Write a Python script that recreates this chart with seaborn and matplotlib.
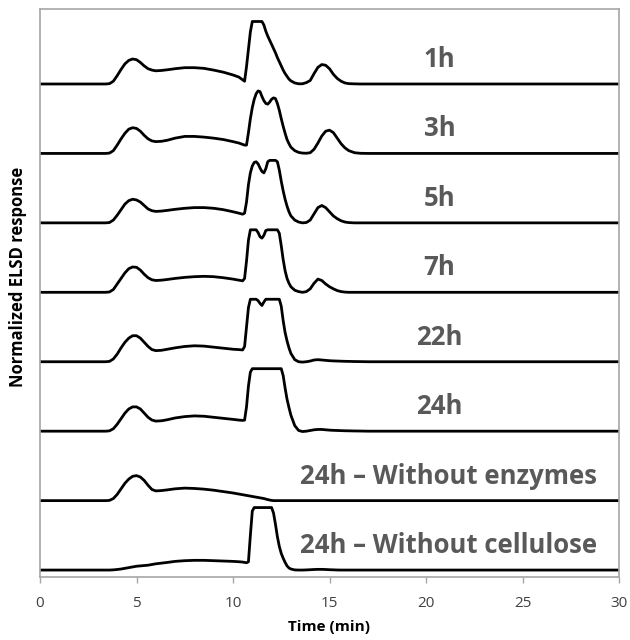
import numpy as np
import pandas as pd
import matplotlib
matplotlib.use("Agg")
import matplotlib.pyplot as plt
import seaborn as sns

# Retention time grid (min) shared by all chromatograms
time_min = [
    0, 3.4, 3.6, 3.8, 4.0, 4.2, 4.4, 4.6, 4.8, 5.0,
    5.2, 5.4, 5.6, 5.8, 6.0, 6.3, 6.6, 7.0, 7.5, 8.0,
    8.5, 9.0, 9.5, 10.0, 10.3, 10.5, 10.6, 10.7, 10.8, 10.9,
    11.0, 11.1, 11.2, 11.3, 11.4, 11.5, 11.6, 11.7, 11.8, 11.9,
    12.0, 12.1, 12.2, 12.3, 12.4, 12.5, 12.6, 12.7, 12.8, 12.9,
    13.0, 13.2, 13.4, 13.6, 13.8, 14.0, 14.2, 14.4, 14.6, 14.8,
    15.0, 15.2, 15.4, 15.6, 15.8, 16.0, 16.3, 16.6, 17.0, 30.0,
]

# Normalized ELSD response of each sample (detector saturates at the flat tops)
elsd_1h = [
    0, 0, 0.005, 0.04, 0.12, 0.21, 0.29, 0.34, 0.36, 0.35,
    0.31, 0.26, 0.22, 0.20, 0.19, 0.195, 0.205, 0.22, 0.235, 0.235,
    0.225, 0.2, 0.17, 0.13, 0.1, 0.06, 0.04, 0.25, 0.5, 0.75,
    0.9, 0.9, 0.9, 0.9, 0.9, 0.9, 0.85, 0.76, 0.69, 0.63,
    0.57, 0.51, 0.45, 0.38, 0.32, 0.26, 0.2, 0.15, 0.11, 0.07,
    0.045, 0.015, 0.003, 0.003, 0.02, 0.05, 0.15, 0.24, 0.28, 0.27,
    0.22, 0.14, 0.08, 0.04, 0.015, 0.005, 0.002, 0, 0, 0,
]
elsd_3h = [
    0, 0, 0.005, 0.04, 0.12, 0.21, 0.29, 0.35, 0.37, 0.36,
    0.32, 0.26, 0.21, 0.18, 0.17, 0.175, 0.19, 0.22, 0.245, 0.245,
    0.235, 0.22, 0.2, 0.17, 0.15, 0.13, 0.12, 0.12, 0.3, 0.5,
    0.66, 0.78, 0.86, 0.9, 0.89, 0.82, 0.76, 0.72, 0.71, 0.74,
    0.78, 0.8, 0.79, 0.72, 0.62, 0.5, 0.39, 0.29, 0.2, 0.14,
    0.09, 0.04, 0.015, 0.005, 0.003, 0.01, 0.06, 0.15, 0.25, 0.32,
    0.335, 0.3, 0.22, 0.14, 0.08, 0.04, 0.01, 0.002, 0, 0,
]
elsd_5h = [
    0, 0, 0.005, 0.04, 0.11, 0.19, 0.27, 0.32, 0.34, 0.33,
    0.3, 0.25, 0.2, 0.175, 0.165, 0.17, 0.18, 0.195, 0.21, 0.22,
    0.22, 0.21, 0.19, 0.16, 0.14, 0.125, 0.14, 0.3, 0.55, 0.72,
    0.82, 0.87, 0.88, 0.85, 0.79, 0.74, 0.72, 0.78, 0.88, 0.9,
    0.9, 0.9, 0.9, 0.88, 0.76, 0.6, 0.46, 0.34, 0.24, 0.16,
    0.1, 0.04, 0.012, 0.0, 0.005, 0.04, 0.13, 0.22, 0.25, 0.22,
    0.16, 0.1, 0.06, 0.03, 0.012, 0.004, 0, 0, 0, 0,
]
elsd_7h = [
    0, 0, 0.005, 0.04, 0.12, 0.2, 0.28, 0.34, 0.365, 0.36,
    0.32, 0.26, 0.21, 0.18, 0.17, 0.175, 0.185, 0.2, 0.215, 0.225,
    0.23, 0.225, 0.21, 0.19, 0.175, 0.165, 0.2, 0.45, 0.75, 0.9,
    0.9, 0.9, 0.9, 0.86, 0.8, 0.78, 0.82, 0.89, 0.9, 0.9,
    0.9, 0.9, 0.9, 0.9, 0.85, 0.67, 0.47, 0.31, 0.2, 0.13,
    0.08, 0.03, 0.01, 0.0, 0.01, 0.05, 0.13, 0.19, 0.17, 0.12,
    0.08, 0.05, 0.025, 0.01, 0.003, 0, 0, 0, 0, 0,
]
elsd_22h = [
    0, 0, 0.005, 0.04, 0.11, 0.2, 0.28, 0.34, 0.375, 0.375,
    0.34, 0.28, 0.22, 0.175, 0.16, 0.165, 0.18, 0.2, 0.22, 0.23,
    0.225, 0.21, 0.195, 0.18, 0.175, 0.17, 0.22, 0.5, 0.78, 0.9,
    0.9, 0.9, 0.9, 0.88, 0.84, 0.81, 0.86, 0.9, 0.9, 0.9,
    0.9, 0.9, 0.9, 0.9, 0.9, 0.8, 0.59, 0.42, 0.3, 0.2,
    0.12, 0.03, 0.0, -0.005, 0.0, 0.01, 0.025, 0.03, 0.025, 0.02,
    0.015, 0.012, 0.01, 0.008, 0.006, 0.005, 0.003, 0.002, 0, 0,
]
elsd_24h = [
    0, 0, 0.005, 0.035, 0.1, 0.18, 0.26, 0.32, 0.35, 0.35,
    0.32, 0.26, 0.2, 0.16, 0.145, 0.15, 0.165, 0.19, 0.21, 0.22,
    0.215, 0.2, 0.185, 0.17, 0.16, 0.155, 0.16, 0.35, 0.65, 0.85,
    0.9, 0.9, 0.9, 0.9, 0.9, 0.9, 0.9, 0.9, 0.9, 0.9,
    0.9, 0.9, 0.9, 0.9, 0.9, 0.9, 0.8, 0.62, 0.46, 0.34,
    0.23, 0.08, 0.01, -0.005, 0.0, 0.01, 0.02, 0.025, 0.025, 0.02,
    0.015, 0.012, 0.01, 0.008, 0.006, 0.005, 0.003, 0.002, 0, 0,
]
elsd_no_enzymes = [
    0, 0, 0.003, 0.03, 0.09, 0.17, 0.25, 0.31, 0.35, 0.36,
    0.34, 0.29, 0.22, 0.16, 0.14, 0.145, 0.155, 0.17, 0.18, 0.175,
    0.165, 0.15, 0.13, 0.11, 0.095, 0.085, 0.08, 0.075, 0.07, 0.065,
    0.06, 0.055, 0.05, 0.045, 0.04, 0.035, 0.03, 0.022, 0.015, 0.008,
    0.003, 0, 0, 0, 0, 0, 0, 0, 0, 0,
    0, 0, 0, 0, 0, 0, 0, 0, 0, 0,
    0, 0, 0, 0, 0, 0, 0, 0, 0, 0,
]
elsd_no_cellulose = [
    0, 0, 0, 0.003, 0.008, 0.015, 0.025, 0.035, 0.045, 0.055,
    0.06, 0.065, 0.07, 0.08, 0.09, 0.1, 0.11, 0.125, 0.135, 0.14,
    0.14, 0.135, 0.13, 0.125, 0.12, 0.115, 0.11, 0.105, 0.12, 0.5,
    0.85, 0.9, 0.9, 0.9, 0.9, 0.9, 0.9, 0.9, 0.9, 0.9,
    0.9, 0.82, 0.66, 0.48, 0.34, 0.24, 0.17, 0.11, 0.06, 0.03,
    0.015, 0.002, 0, 0, 0.002, 0.005, 0.008, 0.01, 0.01, 0.008,
    0.005, 0.003, 0.001, 0, 0, 0, 0, 0, 0, 0,
]

sample_labels = [
    "1h", "3h", "5h", "7h", "22h", "24h",
    "24h – Without enzymes", "24h – Without cellulose",
]
sample_traces = [
    elsd_1h, elsd_3h, elsd_5h, elsd_7h, elsd_22h, elsd_24h,
    elsd_no_enzymes, elsd_no_cellulose,
]
x_ticks = [0, 5, 10, 15, 20, 25, 30]

# Long-form table; each chromatogram is stacked one unit above the next
n = len(sample_labels)
frames = []
for i, (name, trace) in enumerate(zip(sample_labels, sample_traces)):
    offset = n - 1 - i
    frames.append(pd.DataFrame({
        "time": time_min,
        "level": np.asarray(trace) + offset,
        "sample": name,
    }))
df = pd.concat(frames, ignore_index=True)

sns.set_theme(style="white")
plt.rcParams["font.family"] = ["Open Sans", "DejaVu Sans"]

fig = plt.figure(figsize=(6.3, 6.4), dpi=100)
ax = fig.add_axes([40 / 630, 63 / 640, 579 / 630, 568 / 640])

sns.lineplot(
    data=df, x="time", y="level", hue="sample", units="sample",
    estimator=None, sort=False, palette={s: "black" for s in sample_labels},
    linewidth=2.0, legend=False, ax=ax,
)

label_color = "#595959"
for i, name in enumerate(sample_labels):
    offset = n - 1 - i
    xc = 21.15 if "Without" in name else 20.7
    ax.text(xc, offset + 0.245, name, ha="center", va="baseline",
            fontsize=18.5, fontweight="bold", color=label_color)

ax.set_xlim(0, 30)
ax.set_ylim(-0.10, 8.08)
ax.set_xticks(x_ticks)
ax.set_xticklabels([str(t) for t in x_ticks])
ax.set_yticks([])

spine_color = "#a6a6a6"
for sp in ax.spines.values():
    sp.set_color(spine_color)
    sp.set_linewidth(1.2)

ax.tick_params(axis="x", bottom=True, direction="out", length=4,
               width=1.0, color=spine_color, pad=10,
               labelsize=11, labelcolor="#404040")

ax.set_xlabel("Time (min)", fontsize=11, fontweight="bold", color="black")
ax.set_ylabel("Normalized ELSD response", fontsize=12, fontweight="bold",
              color="black")
ax.xaxis.set_label_coords(0.5, -0.075)
ax.yaxis.set_label_coords(-0.022, 0.528)

fig.savefig("out.png", dpi=100)
